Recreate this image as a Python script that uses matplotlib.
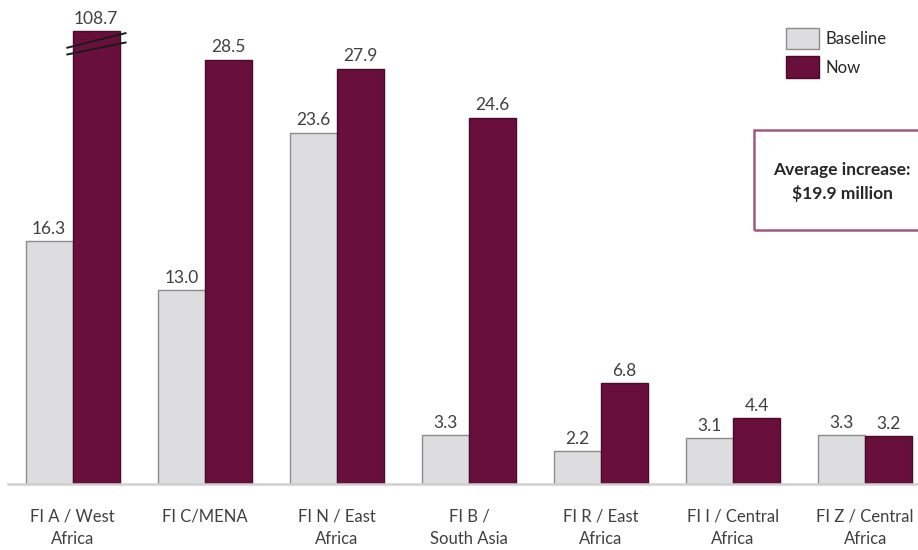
import matplotlib
matplotlib.use('Agg')
from matplotlib import pyplot as plt
from matplotlib.patches import Rectangle
import numpy as np

categories = ['FI A / West\nAfrica', 'FI C/MENA', 'FI N / East\nAfrica', 'FI B /\nSouth Asia',
              'FI R / East\nAfrica', 'FI I / Central\nAfrica', 'FI Z / Central\nAfrica']
baseline = [16.3, 13.0, 23.6, 3.3, 2.2, 3.1, 3.3]
now = [108.7, 28.5, 27.9, 24.6, 6.8, 4.4, 3.2]
cap = 30.4  # bars above this get cut with a break mark

plt.rcParams['font.family'] = ['Lato', 'DejaVu Sans']
txt_col = '#404040'
base_col = '#DDDDDF'
now_col = '#690F3C'

fig = plt.figure(figsize=(9.18, 5.5), dpi=100)
ax = fig.add_axes([8 / 918, 66 / 550, 910 / 918, 484 / 550])

x = np.arange(len(categories))
w = 0.356
shown = [min(v, cap) for v in now]
b1 = ax.bar(x - w / 2, baseline, w, color=base_col, edgecolor='#8C8C8C', linewidth=1, label='Baseline')
b2 = ax.bar(x + w / 2, shown, w, color=now_col, edgecolor='#4A0A2A', linewidth=1, label='Now')

for xi, v in zip(x, baseline):
    ax.annotate(f'{v:.1f}', (xi - w / 2, v), xytext=(0, 3), textcoords='offset points',
                ha='center', va='bottom', fontsize=12.5, color=txt_col)
for xi, v, s in zip(x, now, shown):
    ax.annotate(f'{v:.1f}', (xi + w / 2, s), xytext=(0, 3), textcoords='offset points',
                ha='center', va='bottom', fontsize=12.5, color=txt_col)
    if v > cap:
        # break marks across the cut bar
        xs = [xi - 0.048, xi + 0.407]
        ax.plot(xs, [cap - 1.12, cap - 0.11], color='#1A1A1A', lw=1.4, solid_capstyle='butt', clip_on=False)
        ax.plot(xs, [cap - 1.57, cap - 0.74], color='#1A1A1A', lw=1.4, solid_capstyle='butt', clip_on=False)

ax.set_xlim(-0.49, 6.40)
ax.set_ylim(0, 32.5)
ax.set_yticks([])
ax.set_xticks(x)
ax.set_xticklabels(categories, fontsize=12, color=txt_col, linespacing=1.5, va='top')
ax.tick_params(axis='x', length=0, pad=18)
for s in ['top', 'right', 'left']:
    ax.spines[s].set_visible(False)
ax.spines['bottom'].set_color('#D0D0D0')
ax.spines['bottom'].set_linewidth(1.8)

fig.legend(handles=[b1, b2], loc='upper left', bbox_to_anchor=(786 / 918, 1 - 28 / 550),
           frameon=False, fontsize=12, handlelength=1.95, handleheight=1.6,
           labelspacing=0.42, handletextpad=0.4, borderpad=0, borderaxespad=0,
           labelcolor='#262626')

fig.patches.append(Rectangle((754 / 918, 1 - 230 / 550), 176 / 918, 100 / 550,
                             transform=fig.transFigure, fill=False,
                             edgecolor='#9E5A80', linewidth=1.8))
fig.text(842 / 918, 1 - 182 / 550, 'Average increase:\n$19.9 million', ha='center', va='center',
         fontsize=12.5, fontweight='bold', color='#262626', linespacing=1.45)

plt.savefig('out.png', dpi=100)
